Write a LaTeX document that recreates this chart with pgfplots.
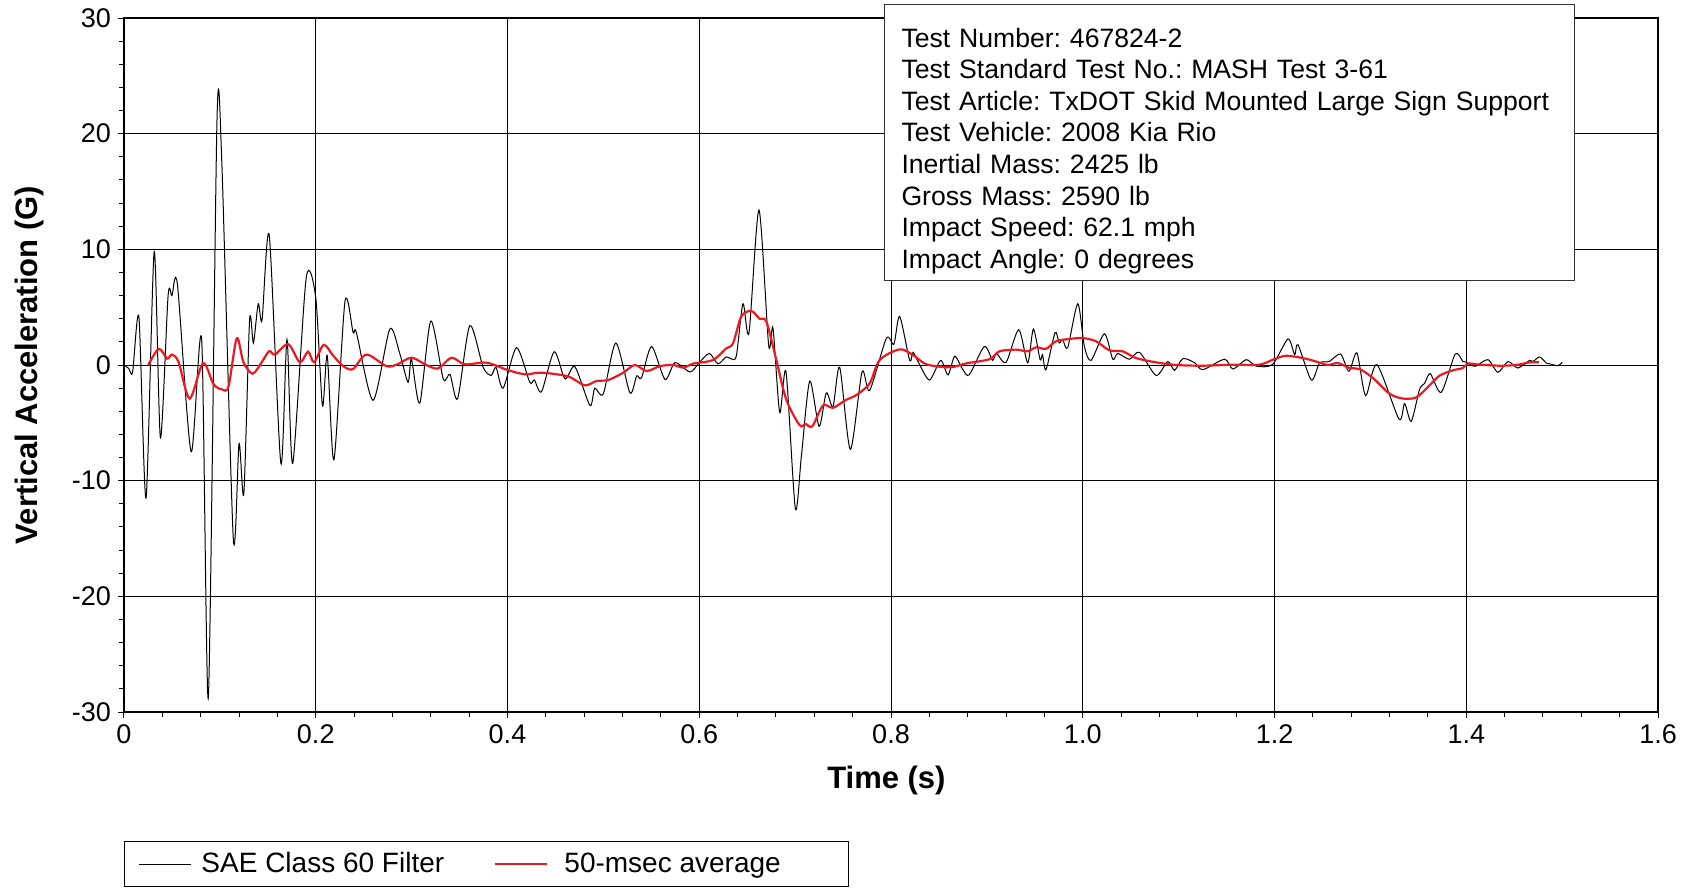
\documentclass[border=0pt]{standalone}
\usepackage{fontspec}
\setmainfont{Liberation Sans}
\usepackage{pgfplots}
\pgfplotsset{compat=1.18}
\definecolor{avgred}{RGB}{235,25,35}
\frenchspacing

\begin{document}
\begin{tikzpicture}
\path[use as bounding box] (-62pt,-88pt) rectangle (783pt,356pt);
\begin{axis}[
  name=ax, at={(0,0)}, anchor=south west,
  scale only axis, width=767pt, height=347pt,
  xmin=0, xmax=1.6, ymin=-30, ymax=30,
  xtick={0,0.2,0.4,0.6,0.8,1.0,1.2,1.4,1.6},
  xticklabels={0,0.2,0.4,0.6,0.8,1.0,1.2,1.4,1.6},
  ytick={-30,-20,-10,0,10,20,30},
  minor y tick num=4, minor x tick num=4,
  grid=major, major grid style={black, line width=0.5pt},
  tick align=outside, tick pos=left,
  major tick length=3pt, minor tick length=2.5pt,
  every tick/.style={black, line width=0.5pt},
  axis line style={black, line width=0.6pt},
  tick label style={font=\fontsize{13.5}{16}\selectfont},
  /pgf/number format/assume math mode=true,
  xlabel={Time (s)}, ylabel={Vertical Acceleration (G)},
  label style={font=\fontsize{15.5}{18}\selectfont\bfseries},
  xlabel style={at={(axis description cs:0.497,-0.098)}, anchor=center},
  ylabel style={at={(axis description cs:-0.0619,0.5)}, anchor=center},
  legend columns=2, legend cell align=left,
  legend style={at={(axis description cs:0,-0.186)}, anchor=north west,
    draw=black, line width=0.5pt, inner xsep=7pt, inner ysep=3.5pt,
    font=\fontsize{14}{16}\selectfont,
    /tikz/every odd column/.append style={column sep=3pt},
    /tikz/every even column/.append style={column sep=23pt}},
  legend image code/.code={\draw[#1] (0pt,0pt) -- (26pt,0pt);},
]
\addplot[black, line width=0.5pt, smooth, tension=0.45] coordinates {
(0.000,0) (0.005,-0.3) (0.009,-0.6) (0.0156,4.1) (0.023,-11.5) (0.0315,9.8)
(0.038,-6.3) (0.046,6.0) (0.050,6.0) (0.0557,7.0) (0.070,-7.5) (0.081,2.2)
(0.088,-28.7) (0.097,21.2) (0.102,17.6) (0.114,-15.0) (0.120,-6.8) (0.125,-11.1)
(0.131,3.9) (0.135,1.9) (0.140,5.3) (0.144,3.9) (0.1515,11.2) (0.1636,-8.5)
(0.170,2.2) (0.176,-8.5) (0.190,7.5) (0.200,5.8) (0.207,-3.5) (0.212,0.8)
(0.219,-8.2) (0.2305,5.5) (0.239,2.8) (0.2424,2.8) (0.2598,-3.05) (0.2772,3.1)
(0.2876,1.0) (0.2963,-1.5) (0.2998,0.5) (0.3085,-3.3) (0.320,3.8) (0.333,-1.2)
(0.340,-0.8) (0.348,-2.9) (0.3607,3.4) (0.3746,-0.2) (0.383,-0.9) (0.388,-0.2)
(0.3955,-2.0) (0.4094,1.5) (0.4233,-1.5) (0.428,-1.3) (0.4355,-2.3) (0.4487,1.15)
(0.4599,-1.2) (0.4703,-0.15) (0.486,-3.5) (0.491,-2.0) (0.4999,-2.5) (0.513,1.9)
(0.5277,-2.4) (0.5347,-0.95) (0.5398,-1.1) (0.5503,1.6) (0.5643,-1.25) (0.5747,0.2)
(0.5904,-0.6) (0.600,0.2) (0.6105,1.0) (0.6195,0.1) (0.628,0.7) (0.633,0.55)
(0.6387,0.8) (0.6456,5.3) (0.6519,2.8) (0.6623,13.4) (0.6724,1.7) (0.6769,3.2)
(0.6839,-4.1) (0.6905,-0.6) (0.7002,-12.4) (0.7065,-7.9) (0.7152,-1.4) (0.725,-5.3)
(0.7325,-2.4) (0.7395,-3.6) (0.7465,-0.2) (0.7576,-7.3) (0.7698,-0.6) (0.7777,-2.2)
(0.7951,2.3) (0.803,1.8) (0.809,4.2) (0.8195,0.4) (0.823,1.1) (0.830,0.0)
(0.8403,-1.3) (0.8518,0.4) (0.8595,-0.86) (0.8664,0.75) (0.875,-0.4) (0.8817,-0.84)
(0.8973,1.6) (0.906,0.4) (0.910,1.0) (0.920,0.23) (0.9332,3.05) (0.9426,0.2)
(0.9485,3.1) (0.9555,0.46) (0.958,0.9) (0.9617,-0.4) (0.9711,2.8) (0.9755,1.9)
(0.979,2.2) (0.9843,1.5) (0.9948,5.3) (1.0017,1.6) (1.0087,0.4) (1.0226,2.7)
(1.0313,0.5) (1.0365,1.0) (1.0487,0.5) (1.0592,1.1) (1.0765,-0.9) (1.0887,0.3)
(1.0957,-0.46) (1.1044,0.55) (1.1166,0.2) (1.1253,-0.4) (1.1479,0.5) (1.1566,-0.35)
(1.1705,0.46) (1.181,-0.1) (1.198,0.05) (1.214,2.25) (1.221,0.9) (1.2245,1.75)
(1.2384,-1.3) (1.247,0.17) (1.257,0.3) (1.2689,0.95) (1.2776,-0.55) (1.286,1.04)
(1.295,-2.65) (1.3068,0.03) (1.3298,-4.67) (1.3357,-3.34) (1.3426,-4.87) (1.3513,-2.1)
(1.3565,-1.6) (1.3624,-0.75) (1.3739,-2.36) (1.3885,0.95) (1.3965,0.3) (1.400,0.25)
(1.405,0) (1.410,-0.1) (1.4226,0.46) (1.433,-0.63) (1.4435,0.3) (1.4539,-0.26)
(1.4661,0.4) (1.4696,0.3) (1.4765,0.7) (1.4835,0.17) (1.487,0.1) (1.4956,-0.06)
(1.5001,0.23)
};
\addlegendentry{SAE Class 60 Filter}
\addplot[avgred, line width=1.1pt, smooth, tension=0.5] coordinates {
(0.0253,0) (0.0363,1.4) (0.045,0.55) (0.050,0.9) (0.057,0.25) (0.0685,-2.9)
(0.0824,0.16) (0.0934,-1.66) (0.102,-2.1) (0.109,-1.86) (0.1176,2.3) (0.1246,0.24)
(0.1342,-0.75) (0.1436,0.24) (0.1515,1.2) (0.1574,0.9) (0.1713,1.8) (0.1834,0.24)
(0.192,1.15) (0.1983,0.24) (0.2083,1.74) (0.218,0.83) (0.2284,-0.08) (0.2387,-0.36)
(0.2528,0.9) (0.2737,-0.1) (0.285,0.05) (0.2998,0.63) (0.3154,0) (0.3276,-0.3)
(0.3415,0.63) (0.3555,0.06) (0.378,0.2) (0.400,-0.43) (0.418,-0.8) (0.4338,-0.66)
(0.4511,-0.8) (0.4651,-1.04) (0.4807,-1.76) (0.4929,-1.38) (0.5051,-1.3) (0.5208,-0.66)
(0.5329,0) (0.5451,-0.52) (0.559,-0.1) (0.573,0) (0.5834,-0.23) (0.5938,0.12)
(0.6143,0.43) (0.6282,1.44) (0.6352,1.87) (0.6439,4.2) (0.6543,4.67) (0.663,4.0)
(0.670,3.75) (0.6804,0.43) (0.6908,-3.0) (0.7047,-5.2) (0.711,-5.1) (0.7179,-5.3)
(0.7291,-3.5) (0.7395,-3.7) (0.7534,-3.0) (0.7638,-2.6) (0.7777,-1.6) (0.7882,0.43)
(0.809,1.35) (0.823,0.86) (0.8369,0.06) (0.8612,-0.2) (0.8786,0.14) (0.9026,0.5)
(0.913,1.18) (0.9304,1.33) (0.9426,1.18) (0.9513,1.53) (0.9617,1.4) (0.9722,2.05)
(0.9861,2.25) (1.000,2.33) (1.0139,2.05) (1.0278,1.27) (1.0417,1.18) (1.0556,0.6)
(1.0765,0.23) (1.0974,0) (1.1252,-0.06) (1.1565,0.03) (1.1843,0.03) (1.200,0.52)
(1.2122,0.8) (1.2295,0.6) (1.2435,0.3) (1.2557,0) (1.2661,0.17) (1.2783,-0.26)
(1.2887,-0.35) (1.3026,-1.12) (1.320,-2.48) (1.3339,-2.9) (1.3478,-2.8) (1.360,-1.9)
(1.3722,-0.92) (1.3861,-0.46) (1.3965,-0.26) (1.4017,0.12) (1.4139,0.03) (1.4348,-0.06)
(1.4522,0) (1.4661,0.23) (1.4758,0.23)
};
\addlegendentry{\hspace{3pt}50-msec average\rule{25pt}{0pt}}
\end{axis}
\node[draw=black!80, fill=white, line width=0.5pt, anchor=north west,
  minimum width=345pt, minimum height=138pt, text width=328pt, inner xsep=8.5pt,
  align=left, font=\fontsize{13.3}{15.8}\selectfont]
  at ([shift={(380pt,354pt)}]ax.south west)
  {\rule{0pt}{18pt}Test Number: 467824-2\\
   Test Standard Test No.: MASH Test 3-61\\
   Test Article: TxDOT Skid Mounted Large Sign Support\\
   Test Vehicle: 2008 Kia Rio\\
   Inertial Mass: 2425 lb\\
   Gross Mass: 2590 lb\\
   Impact Speed: 62.1 mph\\
   Impact Angle: 0 degrees};
\end{tikzpicture}
\end{document}
